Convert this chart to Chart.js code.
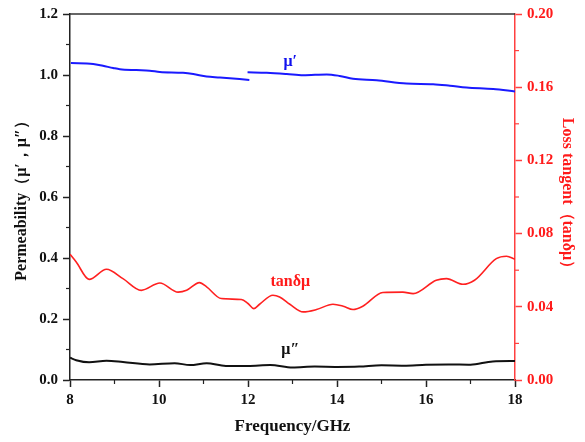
<!DOCTYPE html>
<html>
<head>
<meta charset="utf-8">
<script src="https://cdn.jsdelivr.net/npm/chart.js@4.4.1/dist/chart.umd.min.js"></script>
<style>
html,body{margin:0;padding:0;background:#fff;}
canvas{display:block;}
</style>
</head>
<body>
<canvas id="c" width="585" height="442"></canvas>
<script>
// ---- data ----
const muPrimeLowFreq = [8.02, 8.52, 8.74, 8.97, 9.12, 9.49, 9.79, 10.02, 10.54, 10.77, 11.07, 11.37, 12.03];
const muPrimeLow     = [1.039, 1.036, 1.030, 1.023, 1.019, 1.016, 1.014, 1.010, 1.007, 1.003, 0.995, 0.992, 0.984];
const muPrimeHighFreq = [11.99, 12.42, 12.87, 13.24, 13.77, 14.06, 14.36, 14.89, 15.56, 16.16, 16.54, 16.91, 17.51, 18.0];
const muPrimeHigh     = [1.009, 1.007, 1.003, 0.999, 1.002, 0.997, 0.988, 0.983, 0.972, 0.970, 0.965, 0.959, 0.954, 0.946];

const muDoubleFreq = [8.0, 8.14, 8.43, 8.82, 9.19, 9.79, 10.35, 10.7, 11.07, 11.5, 12.0, 12.5, 13.0, 13.5, 14.0, 14.5, 15.0, 15.5, 16.0, 16.5, 17.0, 17.5, 18.0];
const muDouble     = [0.073, 0.065, 0.058, 0.063, 0.059, 0.051, 0.055, 0.049, 0.055, 0.046, 0.046, 0.049, 0.041, 0.044, 0.043, 0.044, 0.048, 0.047, 0.050, 0.051, 0.050, 0.061, 0.062];

const tanFreq = [8.0, 8.14, 8.43, 8.82, 9.19, 9.6, 10.02, 10.43, 10.62, 10.91, 11.07, 11.4, 11.85, 12.0, 12.13, 12.26, 12.56, 12.71, 12.94, 13.24, 13.54, 13.91, 14.14, 14.36, 14.58, 15.03, 15.48, 15.71, 16.23, 16.46, 16.83, 17.09, 17.58, 17.81, 18.0];
const tanDelta = [0.0687, 0.0645, 0.0550, 0.0605, 0.0554, 0.0490, 0.0530, 0.0480, 0.0490, 0.0532, 0.0509, 0.0445, 0.0440, 0.0418, 0.0390, 0.0414, 0.0463, 0.0454, 0.0414, 0.0372, 0.0385, 0.0414, 0.0403, 0.0385, 0.0403, 0.0478, 0.0480, 0.0472, 0.0545, 0.0554, 0.0523, 0.0545, 0.0663, 0.0676, 0.0660];

const xTicks = [8, 10, 12, 14, 16, 18];
const xMinor = [9, 11, 13, 15, 17];
const yMinor = [0.1, 0.3, 0.5, 0.7, 0.9, 1.1];
const y1Minor = [0.02, 0.06, 0.10, 0.14, 0.18];

const labels = [
  {text: 'μ′', x: 12.95, y: 1.042, axis: 'y', color: '#1010ee'},
  {text: 'tanδμ', x: 12.95, y: 0.0536, axis: 'y1', color: '#ff1a1a'},
  {text: 'μ″', x: 12.95, y: 0.098, axis: 'y', color: '#111111'}
];

const pts = (xs, ys) => xs.map((x, i) => ({x, y: ys[i]}));
const FONT = '"Liberation Serif", "Times New Roman", serif';

const extras = {
  id: 'extras',
  afterDraw(chart) {
    const {ctx, chartArea, scales} = chart;
    ctx.save();
    // top border
    ctx.strokeStyle = '#333';
    ctx.lineWidth = 1.5;
    ctx.beginPath();
    ctx.moveTo(chartArea.left, chartArea.top);
    ctx.lineTo(chartArea.right, chartArea.top);
    ctx.stroke();
    // minor ticks
    ctx.lineWidth = 1.2;
    ctx.strokeStyle = '#222';
    xMinor.forEach(v => {
      const px = scales.x.getPixelForValue(v);
      ctx.beginPath(); ctx.moveTo(px, chartArea.bottom); ctx.lineTo(px, chartArea.bottom + 4); ctx.stroke();
    });
    yMinor.forEach(v => {
      const py = scales.y.getPixelForValue(v);
      ctx.beginPath(); ctx.moveTo(chartArea.left, py); ctx.lineTo(chartArea.left - 4, py); ctx.stroke();
    });
    ctx.strokeStyle = '#ff4040';
    y1Minor.forEach(v => {
      const py = scales.y1.getPixelForValue(v);
      ctx.beginPath(); ctx.moveTo(chartArea.right, py); ctx.lineTo(chartArea.right + 4, py); ctx.stroke();
    });
    // series labels
    ctx.font = 'bold 16px ' + FONT;
    ctx.textAlign = 'center';
    ctx.textBaseline = 'middle';
    labels.forEach(l => {
      ctx.fillStyle = l.color;
      ctx.fillText(l.text, scales.x.getPixelForValue(l.x), scales[l.axis].getPixelForValue(l.y));
    });
    ctx.restore();
  }
};

new Chart(document.getElementById('c'), {
  type: 'line',
  data: {
    datasets: [
      {label: 'μ′ (8–12 GHz)', data: pts(muPrimeLowFreq, muPrimeLow), borderColor: '#1a1aff', borderWidth: 2, yAxisID: 'y', cubicInterpolationMode: 'monotone'},
      {label: 'μ′ (12–18 GHz)', data: pts(muPrimeHighFreq, muPrimeHigh), borderColor: '#1a1aff', borderWidth: 2, yAxisID: 'y', cubicInterpolationMode: 'monotone'},
      {label: 'μ″', data: pts(muDoubleFreq, muDouble), borderColor: '#111111', borderWidth: 2, yAxisID: 'y', cubicInterpolationMode: 'monotone'},
      {label: 'tanδμ', data: pts(tanFreq, tanDelta), borderColor: '#ff2020', borderWidth: 1.6, yAxisID: 'y1', cubicInterpolationMode: 'monotone'}
    ]
  },
  options: {
    responsive: false,
    animation: false,
    elements: {point: {radius: 0}},
    layout: {padding: {top: 13, left: 0, right: 0, bottom: 0}},
    plugins: {legend: {display: false}, tooltip: {enabled: false}},
    scales: {
      x: {
        type: 'linear', min: 8, max: 18,
        afterBuildTicks: s => { s.ticks = xTicks.map(v => ({value: v})); },
        afterFit: s => { s.height = 62; },
        border: {color: '#222', width: 1.5},
        grid: {drawOnChartArea: false, drawTicks: true, tickLength: 7, tickColor: '#222', tickWidth: 1.5},
        ticks: {color: '#111', padding: 4, font: {family: FONT, size: 15, weight: 'bold'}, maxRotation: 0},
        title: {display: true, text: 'Frequency/GHz', color: '#111', font: {family: FONT, size: 17, weight: 'bold'}, padding: {top: 0, bottom: 5}}
      },
      y: {
        position: 'left', min: 0, max: 1.2,
        afterFit: s => { s.width = 70; },
        border: {color: '#222', width: 1.5},
        grid: {drawOnChartArea: false, drawTicks: true, tickLength: 7, tickColor: '#222', tickWidth: 1.5},
        ticks: {stepSize: 0.2, color: '#111', padding: 5, font: {family: FONT, size: 15, weight: 'bold'}, callback: v => Number(v).toFixed(1)},
        title: {display: true, text: 'Permeability（μ′，μ″）', color: '#111', font: {family: FONT, size: 16, weight: 'bold'}, padding: {top: 12, bottom: 0}}
      },
      y1: {
        position: 'right', min: 0, max: 0.2,
        afterFit: s => { s.width = 70; },
        border: {color: '#ff4040', width: 1.5},
        grid: {drawOnChartArea: false, drawTicks: true, tickLength: 7, tickColor: '#ff4040', tickWidth: 1.5},
        ticks: {stepSize: 0.04, color: '#ff1a1a', padding: 5, font: {family: FONT, size: 15, weight: 'bold'}, callback: v => Number(v).toFixed(2)},
        title: {display: true, text: 'Loss tangent（tanδμ）', color: '#ff1a1a', font: {family: FONT, size: 16, weight: 'bold'}, padding: {top: 8, bottom: 0}}
      }
    }
  },
  plugins: [extras]
});
</script>
</body>
</html>
